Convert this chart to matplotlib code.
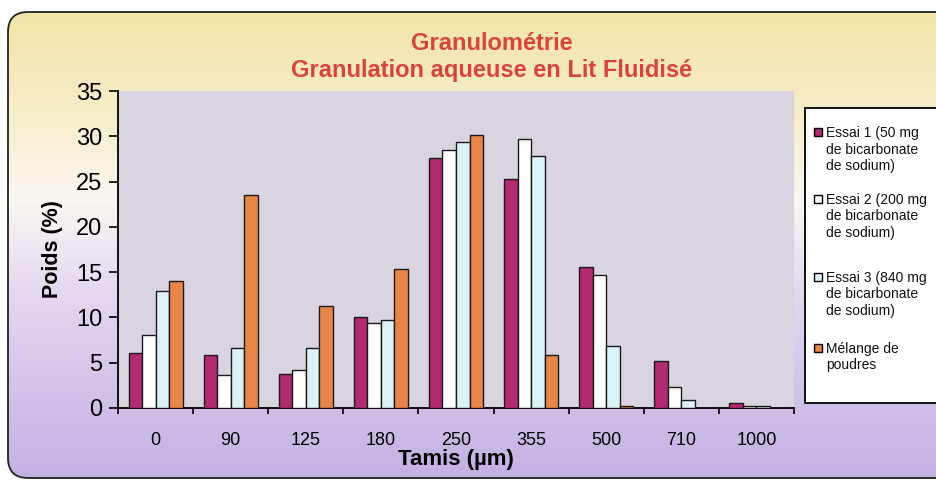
import matplotlib
matplotlib.use('Agg')
import matplotlib.pyplot as plt
import numpy as np
from matplotlib.patches import FancyBboxPatch, Rectangle

plt.rcParams['font.family'] = ['Liberation Sans', 'DejaVu Sans']

categories = ['0', '90', '125', '180', '250', '355', '500', '710', '1000']
essai1 = [6.1, 5.9, 3.8, 10.0, 27.6, 25.3, 15.6, 5.2, 0.5]
essai2 = [8.1, 3.6, 4.2, 9.4, 28.5, 29.7, 14.7, 2.3, 0.2]
essai3 = [12.9, 6.6, 6.6, 9.7, 29.4, 27.8, 6.8, 0.9, 0.2]
melange = [14.0, 23.5, 11.3, 15.4, 30.1, 5.9, 0.2, 0.0, 0.0]
series_labels = ['Essai 1 (50 mg\nde bicarbonate\nde sodium)',
                 'Essai 2 (200 mg\nde bicarbonate\nde sodium)',
                 'Essai 3 (840 mg\nde bicarbonate\nde sodium)',
                 'Mélange de\npoudres']
series_colors = ['#B22A70', '#FFFFFF', '#DDF2F8', '#E8864A']
title_1 = 'Granulométrie'
title_2 = 'Granulation aqueuse en Lit Fluidisé'

W, H = 937, 484
fig = plt.figure(figsize=(W / 100, H / 100), dpi=100)
fig.patch.set_facecolor('white')

# background with gradient and rounded border (pixel coordinates)
bg = fig.add_axes([0, 0, 1, 1])
bg.set_xlim(0, W)
bg.set_ylim(H, 0)
bg.axis('off')
stops_y = [12, 120, 200, 300, 478]
cols = np.array([[243, 228, 168], [247, 238, 205], [250, 246, 242],
                 [226, 214, 240], [194, 177, 227]]) / 255
ys = np.arange(H)
grad = np.stack([np.interp(ys, stops_y, cols[:, k]) for k in range(3)], axis=1)
img = np.repeat(grad[:, None, :], W, axis=1)
im = bg.imshow(img, extent=(0, W, H, 0), aspect='auto', zorder=0)
box = FancyBboxPatch((8, 12), 1000, 466, boxstyle='round,pad=0,rounding_size=20',
                     fc='none', ec='#222222', lw=1.3, zorder=2)
bg.add_patch(box)
im.set_clip_path(box)

# legend (drawn manually so the key squares sit on the first line)
bg.add_patch(Rectangle((805, 108), 200, 295, fc='white', ec='black', lw=1.3, zorder=3))
entry_y = [132, 199, 277, 348]
line_h = 16.5
for lab, c, y0 in zip(series_labels, series_colors, entry_y):
    bg.add_patch(Rectangle((814, y0 - 4), 8, 8, fc=c, ec='black', lw=1.0, zorder=4))
    for j, line in enumerate(lab.split('\n')):
        bg.text(826, y0 + 5 + j * line_h, line, fontsize=10, va='baseline', ha='left',
                color='#111111', zorder=5)

# main axes
L, R, T, B = 118, 794, 91, 408
ax = fig.add_axes([L / W, 1 - B / H, (R - L) / W, (B - T) / H])
ax.set_facecolor('#D9D4DF')
x = np.arange(len(categories))
bw = 0.18
for i, (vals, c) in enumerate(zip([essai1, essai2, essai3, melange], series_colors)):
    ax.bar(x + (i - 1.5) * bw, vals, bw, color=c, edgecolor='#1a1a1a', lw=1.0, zorder=3)

ax.set_xlim(-0.5, len(categories) - 0.5)
ax.set_ylim(0, 35)
ax.set_yticks(np.arange(0, 36, 5))
ax.set_xticks(x)
ax.set_xticklabels(categories, fontsize=13)
ax.set_xticks(np.arange(-0.5, len(categories), 1), minor=True)
ax.tick_params(axis='x', which='major', length=0, pad=17)
ax.tick_params(axis='x', which='minor', length=4, direction='out', width=1.2)
ax.tick_params(axis='y', length=6.5, direction='out', width=1.2, labelsize=17, pad=5)
for s in ['top', 'right']:
    ax.spines[s].set_visible(False)
for s in ['left', 'bottom']:
    ax.spines[s].set_linewidth(1.3)
ax.set_xlabel('Tamis (µm)', fontsize=16, fontweight='bold', labelpad=0)
ax.set_ylabel('Poids (%)', fontsize=15.5, fontweight='bold', labelpad=9)

bg.text(492, 43, title_1, ha='center', va='center', color='#D6443C',
        fontsize=17, fontweight='bold')
bg.text(492, 70, title_2, ha='center', va='center', color='#D6443C',
        fontsize=17, fontweight='bold')

fig.savefig('out.png', dpi=100)
